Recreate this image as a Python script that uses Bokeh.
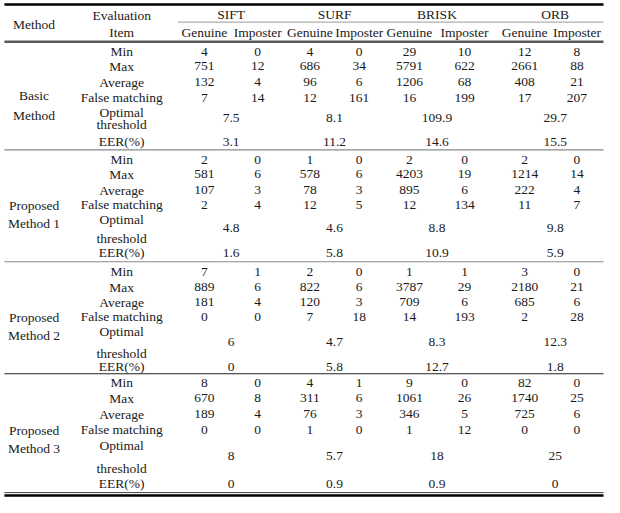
from bokeh.plotting import figure
from bokeh.models import Range1d, ColumnDataSource
from bokeh.core.properties import value
from bokeh.embed import file_html
from bokeh.resources import INLINE

# ---------------- data ----------------
descriptors = ["SIFT", "SURF", "BRISK", "ORB"]
sub_headers = ["Genuine", "Imposter"]
items = ["Min", "Max", "Average", "False matching", "Optimal threshold", "EER(%)"]
methods = [["Basic", "Method"], ["Proposed", "Method 1"],
           ["Proposed", "Method 2"], ["Proposed", "Method 3"]]

basic_min = [4, 0, 4, 0, 29, 10, 12, 8]
basic_max = [751, 12, 686, 34, 5791, 622, 2661, 88]
basic_avg = [132, 4, 96, 6, 1206, 68, 408, 21]
basic_false = [7, 14, 12, 161, 16, 199, 17, 207]
basic_thr = [7.5, 8.1, 109.9, 29.7]
basic_eer = [3.1, 11.2, 14.6, 15.5]

p1_min = [2, 0, 1, 0, 2, 0, 2, 0]
p1_max = [581, 6, 578, 6, 4203, 19, 1214, 14]
p1_avg = [107, 3, 78, 3, 895, 6, 222, 4]
p1_false = [2, 4, 12, 5, 12, 134, 11, 7]
p1_thr = [4.8, 4.6, 8.8, 9.8]
p1_eer = [1.6, 5.8, 10.9, 5.9]

p2_min = [7, 1, 2, 0, 1, 1, 3, 0]
p2_max = [889, 6, 822, 6, 3787, 29, 2180, 21]
p2_avg = [181, 4, 120, 3, 709, 6, 685, 6]
p2_false = [0, 0, 7, 18, 14, 193, 2, 28]
p2_thr = [6, 4.7, 8.3, 12.3]
p2_eer = [0, 5.8, 12.7, 1.8]

p3_min = [8, 0, 4, 1, 9, 0, 82, 0]
p3_max = [670, 8, 311, 6, 1061, 26, 1740, 25]
p3_avg = [189, 4, 76, 3, 346, 5, 725, 6]
p3_false = [0, 0, 1, 0, 1, 12, 0, 0]
p3_thr = [8, 5.7, 18, 25]
p3_eer = [0, 0.9, 0.9, 0]

blocks = [
    (basic_min, basic_max, basic_avg, basic_false, basic_thr, basic_eer),
    (p1_min, p1_max, p1_avg, p1_false, p1_thr, p1_eer),
    (p2_min, p2_max, p2_avg, p2_false, p2_thr, p2_eer),
    (p3_min, p3_max, p3_avg, p3_false, p3_thr, p3_eer),
]

# ---------------- layout ----------------
col_x = [207, 261, 314, 364, 415, 471, 532, 585]
group_x = [234, 339, 443, 563]
method_x = 34
item_x = 123

block_rows = [
    dict(rows=[52, 67, 83, 99], opt=(114, 126), val=120, eer=144, label=(97, 117)),
    dict(rows=[162, 177, 193, 208], opt=(223, 242), val=232, eer=257, label=(209, 227)),
    dict(rows=[276, 292, 307, 322], opt=(337, 359), val=348, eer=373, label=(323, 341)),
    dict(rows=[389, 405, 421, 437], opt=(453, 476), val=464, eer=492, label=(438, 456)),
]


def fmt(v):
    return f"{v:g}"


xs, ys, ts = [], [], []


def add(x, y, t):
    xs.append(x)
    ys.append(y)
    ts.append(t)


# header
add(method_x, 24, "Method")
add(item_x, 15, "Evaluation")
add(item_x, 33, "Item")
for gx, name in zip(group_x, descriptors):
    add(gx, 14, name)
for i, cx in enumerate(col_x):
    add(cx, 33, sub_headers[i % 2])

# body
for b, (vals, lay, mname) in enumerate(zip(blocks, block_rows, methods)):
    mn, mx, av, fm, thr, eer = vals
    add(method_x, lay["label"][0], mname[0])
    add(method_x, lay["label"][1], mname[1])
    for r, arr in enumerate([mn, mx, av, fm]):
        y = lay["rows"][r]
        add(item_x, y, items[r])
        for cx, v in zip(col_x, arr):
            add(cx, y, fmt(v))
    opt_words = items[4].split(" ")
    add(item_x, lay["opt"][0], opt_words[0])
    add(item_x, lay["opt"][1], opt_words[1])
    for gx, v in zip(group_x, thr):
        add(gx, lay["val"], fmt(v))
    add(item_x, lay["eer"], items[5])
    for gx, v in zip(group_x, eer):
        add(gx, lay["eer"], fmt(v))

src = ColumnDataSource(dict(x=xs, y=ys, text=ts))

p = figure(width=604, height=497, output_backend="svg", toolbar_location=None,
           x_range=Range1d(0, 613), y_range=Range1d(506, 0),
           min_border=0, min_border_left=0, min_border_right=0,
           min_border_top=0, min_border_bottom=0)
p.axis.visible = False
p.grid.visible = False
p.outline_line_color = None
p.background_fill_color = "white"
p.border_fill_color = "white"

p.text(x="x", y="y", text="text", source=src, text_align="center",
       text_baseline="middle", text_font=value("'Liberation Serif', 'DejaVu Serif', serif"),
       text_font_size=value("13.5px"), text_color="#1a1a1a")

# rules
p.segment(x0=[4], y0=[4], x1=[612], y1=[4], line_color="black", line_width=2.5)
p.segment(x0=[180], y0=[22], x1=[612], y1=[22], line_color="#9a9a9a", line_width=1)
p.segment(x0=[4], y0=[42], x1=[612], y1=[42], line_color="#5a5a5a", line_width=2.5)
p.segment(x0=[4, 4], y0=[152, 266], x1=[612, 612], y1=[152, 266],
          line_color="#8a8a8a", line_width=1.2)
p.segment(x0=[4], y0=[380], x1=[612], y1=[380], line_color="#222222", line_width=1.2)
p.segment(x0=[4], y0=[501], x1=[612], y1=[501], line_color="#444444", line_width=1)
p.segment(x0=[4], y0=[504], x1=[612], y1=[504], line_color="black", line_width=2.5)

open("out.html", "w").write(file_html(p, INLINE))
